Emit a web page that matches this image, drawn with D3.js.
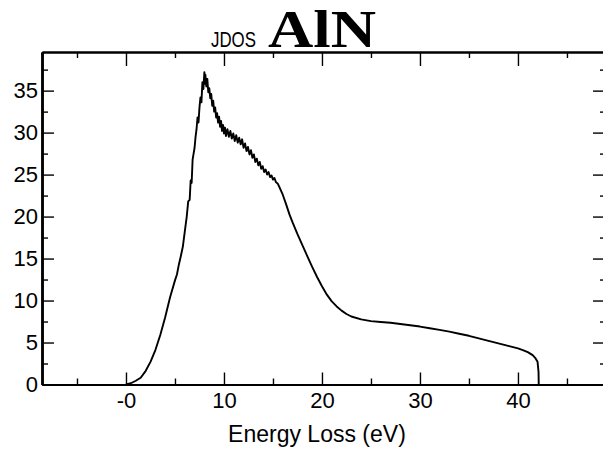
<head>
    <meta charset="utf-8">
    <style> body { margin: 0; background: #fff; } </style>
    <script src="https://cdn.jsdelivr.net/npm/d3@7"></script>
</head>
<body>
<div id="chart"></div>
<script>

// energy loss (eV) and JDOS values
var energy = [0, 0.5, 1, 1.5, 2, 2.5, 3, 3.5, 4, 4.5, 5, 5.2, 5.4, 5.6, 5.8, 6.0,
    6.2, 6.35, 6.5, 6.6, 6.7, 6.8, 6.9, 7.0, 7.1, 7.2, 7.3, 7.4, 7.5, 7.6, 7.7, 7.8, 7.9, 8.0, 8.05, 8.1, 8.2, 8.3, 8.4,
    8.5, 8.6, 8.7, 8.8, 8.9, 9.0, 9.1, 9.2, 9.3, 9.4, 9.5, 9.6, 9.7, 9.8, 9.9, 10.0, 10.1, 10.2, 10.35, 10.5, 10.65,
    10.8, 10.95, 11.1, 11.25, 11.4, 11.55, 11.7, 11.85, 12.0, 12.15, 12.3, 12.45, 12.6, 12.75, 12.9, 13.05, 13.2,
    13.35, 13.5, 13.65, 13.8, 13.95, 14.1, 14.25, 14.4, 14.55, 14.7, 14.85, 15.0, 15.15, 15.3, 15.5, 15.7, 16.0,
    16.3, 16.7, 17.0, 17.5, 18.0, 18.5, 19.0, 19.5, 20.0, 20.5, 21.0, 21.5, 22.0, 22.5, 23.0, 24, 25, 26, 27, 28,
    29, 30, 31, 32, 33, 34, 35, 36, 37, 38, 39, 40, 40.5, 41, 41.5, 41.8, 42.0, 42.1, 42.12];

var jdos = [0, 0.15, 0.45, 0.8, 1.6, 2.7, 4.1, 5.9, 8.0, 10.4, 12.4, 13.1, 14.3, 15.3, 16.4, 18.2,
    20.0, 21.8, 22.0, 24.3, 24.0, 26.8, 27.5, 28.2, 29.5, 30.4, 31.8, 31.2, 33.0, 34.2, 33.6, 36.0, 35.2, 37.2, 35.8, 36.9, 35.5, 36.4, 34.8,
    35.3, 34.1, 34.6, 33.2, 33.8, 32.5, 33.0, 31.8, 32.3, 31.2, 31.9, 30.7, 31.4, 30.2, 30.9, 29.9, 30.6, 29.6, 30.4, 29.5, 30.2,
    29.3, 29.9, 29.0, 29.7, 28.8, 29.4, 28.6, 29.2, 28.2, 28.7, 27.8, 28.3, 27.4, 27.9, 27.0, 27.4, 26.5,
    26.9, 26.1, 26.5, 25.7, 26.0, 25.3, 25.6, 25.0, 25.3, 24.7, 24.9, 24.4, 24.6, 24.1, 23.9, 23.4, 22.6,
    21.6, 20.2, 19.3, 17.9, 16.6, 15.3, 14.0, 12.8, 11.7, 10.7, 9.9, 9.3, 8.8, 8.4, 8.1, 7.75, 7.55, 7.45, 7.35, 7.2,
    7.05, 6.9, 6.7, 6.5, 6.3, 6.05, 5.8, 5.5, 5.2, 4.9, 4.6, 4.3, 4.1, 3.85, 3.5, 3.1, 2.7, 1.5, 0];

var xMajor = [0, 10, 20, 30, 40],
    xMajorLabels = ["-0", "10", "20", "30", "40"],
    xMinor = [-5, 5, 15, 25, 35, 45];
var yMajor = [0, 5, 10, 15, 20, 25, 30, 35],
    yMinor = [2.5, 7.5, 12.5, 17.5, 22.5, 27.5, 32.5, 37.5];

var W = 603, H = 455;
var plotL = 42, plotR = 604, plotT = 52, plotB = 384.5;

var svg = d3.select("#chart").append("svg")
    .attr("width", W)
    .attr("height", H);

var x = d3.scaleLinear().domain([-8.57, 48.78]).range([plotL, plotR]);
var y = d3.scaleLinear().domain([0, 39.6]).range([plotB, plotT]);

function style(g, width) {
    g.select(".domain").attr("stroke", "#000").attr("stroke-width", width);
    g.selectAll(".tick line").attr("stroke", "#000").attr("stroke-width", 1.4);
    g.selectAll("text").attr("fill", "#000")
        .style("font-family", "'Liberation Sans', Arial, sans-serif")
        .style("font-size", "22px");
}

// bottom
svg.append("g").attr("transform", "translate(0," + plotB + ")")
    .call(d3.axisBottom(x).tickValues(xMinor).tickSize(-6).tickSizeOuter(0).tickFormat(""))
    .call(style, 2);
svg.append("g").attr("transform", "translate(0," + plotB + ")")
    .call(d3.axisBottom(x).tickValues(xMajor).tickSize(-12).tickSizeOuter(0).tickPadding(8)
        .tickFormat((d, i) => xMajorLabels[i]))
    .call(style, 2);

// top
svg.append("g").attr("transform", "translate(0," + plotT + ")")
    .call(d3.axisTop(x).tickValues(xMinor).tickSize(-6).tickSizeOuter(0).tickFormat(""))
    .call(style, 2);
svg.append("g").attr("transform", "translate(0," + plotT + ")")
    .call(d3.axisTop(x).tickValues(xMajor).tickSize(-14).tickSizeOuter(0).tickFormat(""))
    .call(style, 2);

// left
svg.append("g").attr("transform", "translate(" + plotL + ",0)")
    .call(d3.axisLeft(y).tickValues(yMinor).tickSize(-6).tickSizeOuter(0).tickFormat(""))
    .call(style, 2.5);
svg.append("g").attr("transform", "translate(" + plotL + ",0)")
    .call(d3.axisLeft(y).tickValues(yMajor).tickSize(-12).tickSizeOuter(0).tickPadding(4)
        .tickFormat(d3.format("d")))
    .call(style, 2.5);

// right
svg.append("g").attr("transform", "translate(" + plotR + ",0)")
    .call(d3.axisRight(y).tickValues(yMinor).tickSize(-4).tickSizeOuter(0).tickFormat(""))
    .call(style, 2);
svg.append("g").attr("transform", "translate(" + plotR + ",0)")
    .call(d3.axisRight(y).tickValues(yMajor).tickSize(-11).tickSizeOuter(0).tickFormat(""))
    .call(style, 2);

// curve
var pts = energy.map((e, i) => [e, jdos[i]]);
svg.append("path")
    .datum(pts)
    .attr("fill", "none")
    .attr("stroke", "#000")
    .attr("stroke-width", 1.9)
    .attr("stroke-linejoin", "round")
    .attr("d", d3.line().x(d => x(d[0])).y(d => y(d[1])));

// titles
svg.append("text")
    .attr("x", 211).attr("y", 47)
    .attr("textLength", 45).attr("lengthAdjust", "spacingAndGlyphs")
    .style("font-family", "'Liberation Sans', Arial, sans-serif")
    .style("font-size", "22px")
    .text("JDOS");

svg.append("text")
    .attr("x", 268).attr("y", 47)
    .attr("textLength", 108).attr("lengthAdjust", "spacingAndGlyphs")
    .style("font-family", "'Liberation Serif', 'Times New Roman', serif")
    .style("font-weight", "bold")
    .style("font-size", "53px")
    .text("AlN");

svg.append("text")
    .attr("x", (x(0) + x(40)) / 2 - 5).attr("y", 442)
    .attr("text-anchor", "middle")
    .style("font-family", "'Liberation Sans', Arial, sans-serif")
    .style("font-size", "23px")
    .text("Energy Loss (eV)");

</script>
</body>
